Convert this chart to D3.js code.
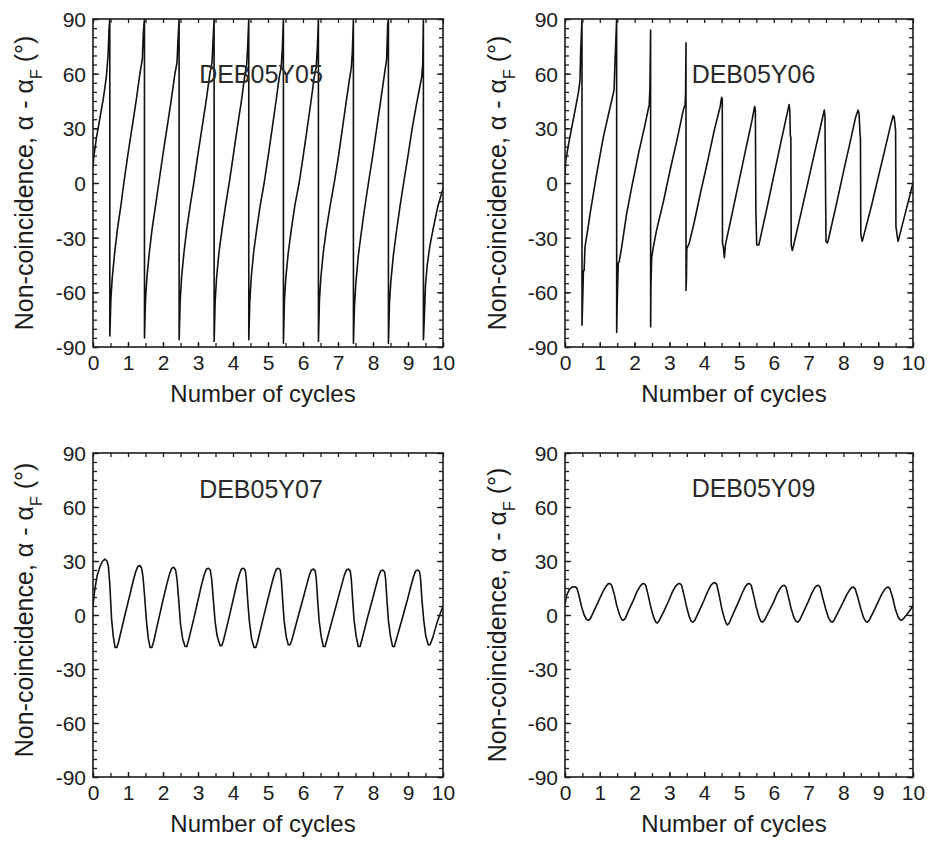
<!DOCTYPE html>
<html><head><meta charset="utf-8">
<script src="https://cdn.jsdelivr.net/npm/d3@7"></script>
<style>
html,body{margin:0;padding:0;background:#fff;}
svg{display:block;font-family:"Liberation Sans",Arial,Helvetica,sans-serif;}
</style></head><body>
<svg id="chart" width="934" height="841"></svg>
<script>
// ---------- data ----------
const panelTitles = ["DEB05Y05", "DEB05Y06", "DEB05Y07", "DEB05Y09"];
const xTickValues = [0, 1, 2, 3, 4, 5, 6, 7, 8, 9, 10];
const yTickValues = [-90, -60, -30, 0, 30, 60, 90];
const xAxisTitle = "Number of cycles";
const yAxisTitleMain = "Non-coincidence, \u03B1 - \u03B1";
const yAxisTitleSub = "F";
const yAxisTitleEnd = " (\u00B0)";

const deb05y05 = [
 [0,8],[0.02,14],[0.1,25],[0.2,36],[0.3,47],[0.38,58],[0.43,70],[0.46,85],[0.48,90],
 [0.481,-84],[0.51,-64],[0.55,-52],[0.62,-38],[0.7,-25],[0.8,-12],[0.88,0],[1.0,16],[1.12,31],[1.24,46],[1.34,60],[1.41,68],[1.44,83],[1.47,90],
 [1.471,-85],[1.5,-64],[1.54,-52],[1.61,-38],[1.69,-25],[1.79,-12],[1.88,0],[2.0,16],[2.12,31],[2.24,46],[2.34,60],[2.4,66],[2.43,79],[2.46,90],
 [2.461,-86],[2.49,-65],[2.53,-52],[2.6,-38],[2.68,-25],[2.78,-12],[2.88,0],[3.0,16],[3.12,31],[3.24,46],[3.34,60],[3.4,66],[3.43,78],[3.46,90],
 [3.461,-87],[3.49,-65],[3.53,-52],[3.6,-38],[3.69,-25],[3.79,-12],[3.9,1],[4.0,14],[4.12,30],[4.24,45],[4.33,58],[4.39,65],[4.42,75],[4.45,90],
 [4.451,-86],[4.48,-65],[4.52,-52],[4.59,-38],[4.68,-25],[4.78,-12],[4.89,0],[5.0,14],[5.12,30],[5.23,45],[5.32,58],[5.38,64],[5.41,74],[5.44,90],
 [5.441,-88],[5.47,-64],[5.51,-52],[5.58,-38],[5.67,-25],[5.77,-12],[5.89,0],[6.0,14],[6.12,30],[6.23,45],[6.32,58],[6.38,64],[6.41,74],[6.44,90],
 [6.441,-87],[6.47,-64],[6.51,-52],[6.58,-38],[6.67,-25],[6.78,-12],[6.9,1],[7.0,13],[7.12,29],[7.23,44],[7.32,56],[7.38,63],[7.41,72],[7.44,90],
 [7.441,-88],[7.47,-68],[7.51,-55],[7.58,-40],[7.66,-28],[7.76,-14],[7.87,0],[8.0,16],[8.12,32],[8.24,48],[8.33,60],[8.39,68],[8.42,87],[8.44,90],
 [8.441,-88],[8.47,-66],[8.51,-54],[8.58,-40],[8.66,-28],[8.77,-13],[8.875,0],[9.0,15],[9.12,30],[9.24,43],[9.33,52],[9.39,58],[9.42,65],[9.44,90],
 [9.441,-86],[9.47,-72],[9.5,-56],[9.55,-45],[9.62,-35],[9.72,-25],[9.85,-13],[10,-3]
];

const deb05y06 = [
 [0,5],[0.02,12],[0.1,21],[0.2,31],[0.3,41],[0.38,49],[0.43,56],[0.45,72],[0.488,90],
 [0.489,-78],[0.5,-70],[0.53,-48],[0.55,-48],[0.575,-35],[0.65,-26],[0.72,-17],[0.91,5],[1.1,25],[1.29,41],[1.41,51],[1.44,68],[1.484,90],
 [1.485,-82],[1.5,-66],[1.53,-44],[1.56,-43],[1.63,-35],[1.77,-17],[1.92,-2],[2.11,16],[2.3,32],[2.42,43],[2.44,52],[2.46,84],
 [2.461,-79],[2.47,-56],[2.49,-41],[2.54,-35],[2.63,-26],[2.83,-10],[3.02,7],[3.21,23],[3.4,40],[3.45,43],[3.465,49],[3.477,77],
 [3.478,-59],[3.49,-52],[3.5,-36],[3.57,-33],[3.72,-21],[3.91,-4],[4.1,12],[4.29,29],[4.46,42],[4.5,47],[4.52,46],
 [4.525,-33],[4.55,-35],[4.58,-41],[4.61,-34],
 [4.8,-17],[5.0,1],[5.2,19],[5.38,35],[5.45,42],[5.47,40],[5.485,-16],[5.51,-34],[5.57,-34],
 [5.8,-14],[6.0,4],[6.2,22],[6.37,37],[6.44,43],[6.46,40],[6.475,26],[6.49,25],[6.5,-34],[6.53,-37],[6.56,-35],
 [6.8,-15],[7.0,2],[7.2,19],[7.38,34],[7.45,40],[7.47,37],[7.48,12],[7.5,-32],[7.54,-33],[7.57,-31],
 [7.8,-11.5],[8.0,6],[8.2,23],[8.35,36],[8.42,40],[8.45,38],[8.48,26],[8.49,25],[8.5,-28],[8.54,-32],[8.57,-30],
 [8.8,-13],[9.0,3],[9.2,19],[9.36,32],[9.43,37],[9.46,36],[9.5,29],[9.51,-24],[9.54,-28],[9.57,-32],[9.6,-30],
 [9.8,-15],[10,0]
];

const deb05y07 = [
 [0,5],[0.05,14],[0.12,22],[0.2,27],[0.28,30],[0.34,31],[0.4,30],[0.44,27],[0.48,17],[0.53,-2],[0.58,-12],[0.63,-18],[0.68,-18],[0.73,-15],
 [0.9,-1],[1.05,11],[1.15,19],[1.22,24],[1.28,27],[1.34,27.5],[1.39,26],[1.43,21],[1.48,9],[1.53,-4],[1.58,-13],[1.63,-18],[1.68,-18],[1.73,-15],
 [1.88,-2],[2.02,10],[2.12,18],[2.19,23],[2.25,26],[2.31,26.5],[2.36,25],[2.4,20],[2.45,8],[2.5,-5],[2.56,-13],[2.63,-17.5],[2.68,-17.5],[2.73,-14],
 [2.88,-2],[3.01,9],[3.11,17.5],[3.18,22.5],[3.24,25.5],[3.3,26],[3.35,25],[3.39,20],[3.44,8],[3.49,-4],[3.55,-12],[3.63,-17],[3.68,-17],[3.73,-14],
 [3.88,-2],[4.01,9],[4.11,17.5],[4.18,22.5],[4.24,25.5],[4.3,26],[4.35,25],[4.38,20],[4.42,8],[4.47,-4],[4.53,-13],[4.6,-18],[4.65,-18],[4.7,-15],
 [4.86,-2],[5.0,9],[5.11,17.5],[5.18,22.5],[5.24,25.5],[5.3,26],[5.35,25],[5.38,20],[5.42,8],[5.46,-3],[5.52,-12],[5.58,-16.5],[5.63,-16.5],[5.68,-14],
 [5.86,-1],[6.0,9],[6.11,17],[6.18,22],[6.24,25],[6.3,25.5],[6.35,24.5],[6.38,20],[6.42,8],[6.46,-3],[6.52,-12],[6.58,-17.5],[6.63,-17.5],[6.68,-14],
 [6.86,-1],[7.0,9],[7.11,17],[7.18,22],[7.24,25],[7.3,25.5],[7.35,24.5],[7.38,20],[7.42,8],[7.46,-3],[7.52,-12],[7.58,-17.5],[7.63,-17.5],[7.68,-14],
 [7.85,-1],[7.99,9],[8.09,16.5],[8.16,21.5],[8.22,24.5],[8.28,25],[8.33,24],[8.36,20],[8.4,8],[8.44,-3],[8.5,-12],[8.56,-17.5],[8.61,-17.5],[8.66,-14],
 [8.85,-1],[8.99,9],[9.09,16.5],[9.16,21.5],[9.22,24.5],[9.28,25],[9.33,24],[9.36,20],[9.4,8],[9.45,-3],[9.51,-12],[9.58,-16.5],[9.63,-16.5],[9.7,-13],
 [9.85,-3],[10,5]
];

const deb05y09 = [
 [0,6],[0.05,11],[0.12,14],[0.2,15.5],[0.29,15.7],[0.34,15],[0.4,11],[0.47,5],[0.55,0],[0.62,-2.5],[0.67,-3],[0.73,-2],
 [0.85,3],[0.97,8],[1.09,13],[1.18,16],[1.24,17.3],[1.29,17.5],[1.34,16.5],[1.41,12],[1.49,5],[1.57,0],[1.63,-2.5],[1.67,-3],[1.73,-2],
 [1.84,3],[1.96,8],[2.07,13],[2.16,16],[2.22,17.3],[2.27,17.5],[2.32,16.5],[2.39,11],[2.47,4],[2.55,-1.5],[2.61,-4],[2.65,-4.5],[2.71,-3],
 [2.84,2],[2.97,7.5],[3.09,13],[3.18,16],[3.25,17.3],[3.3,17.5],[3.35,16.5],[3.42,11],[3.5,4],[3.58,-1.5],[3.63,-3.5],[3.67,-4],[3.73,-3],
 [3.85,2],[3.98,7.5],[4.1,13],[4.19,16.5],[4.26,17.8],[4.31,18],[4.36,17],[4.43,11],[4.51,3],[4.59,-2.5],[4.64,-5],[4.67,-5.5],[4.73,-4],
 [4.85,1.5],[4.98,7],[5.1,12.5],[5.19,16],[5.25,17.3],[5.3,17.5],[5.35,16.5],[5.42,11],[5.5,4],[5.58,-1.5],[5.63,-3.5],[5.67,-4],[5.73,-3],
 [5.86,2],[5.99,7],[6.1,12],[6.19,15],[6.25,16.3],[6.3,16.5],[6.35,15.5],[6.42,10],[6.5,3.5],[6.58,-1.5],[6.64,-3.5],[6.69,-4],[6.74,-3],
 [6.86,2],[6.98,7],[7.09,12],[7.17,15],[7.23,16.3],[7.28,16.5],[7.33,15.5],[7.4,10],[7.49,3.5],[7.57,-1.5],[7.63,-3.5],[7.68,-4],[7.73,-3],
 [7.86,2],[7.99,7],[8.1,11.5],[8.18,14],[8.24,15.3],[8.29,15.5],[8.34,14.5],[8.41,10],[8.5,3.5],[8.58,-1.5],[8.64,-3.5],[8.69,-4],[8.74,-3],
 [8.87,2],[8.99,7],[9.1,11.5],[9.18,14],[9.24,15.3],[9.29,15.5],[9.34,14.5],[9.41,10],[9.49,3.5],[9.57,-1],[9.62,-2.5],[9.67,-3],[9.73,-2],
 [9.85,1],[9.93,3],[10,5.5]
];

const seriesList = [deb05y05, deb05y06, deb05y07, deb05y09];

// ---------- layout ----------
const layout = [
  {left: 93,  top: 19,  width: 350, height: 328, titleDX: 168,   titleDY: 64, yTitleX: 33,  yTitleY: 183},
  {left: 565, top: 19,  width: 348, height: 328, titleDX: 188.5, titleDY: 64, yTitleX: 506, yTitleY: 183},
  {left: 93,  top: 453, width: 350, height: 324, titleDX: 168,   titleDY: 45, yTitleX: 33,  yTitleY: 610},
  {left: 565, top: 453, width: 348, height: 324, titleDX: 188.5, titleDY: 44, yTitleX: 506, yTitleY: 615}
];

const INK = "#1c1c1c";
const xMinor = d3.range(0, 10.001, 0.5);
const yMinor = d3.range(-90, 90.001, 5);
const plainFormat = d => String(d);   // hyphen-minus like the reference

const svg = d3.select("#chart");
svg.append("rect").attr("width", 934).attr("height", 841).attr("fill", "#fff");

function styleAxis(sel, withText) {
  sel.select(".domain").remove();
  sel.attr("font-size", null).attr("font-family", null);
  sel.selectAll(".tick line").attr("stroke", INK).attr("stroke-width", 1.3);
  if (withText) sel.selectAll(".tick text").attr("fill", INK).style("font-size", "21px");
}

layout.forEach((p, i) => {
  const g = svg.append("g").attr("transform", `translate(${p.left},${p.top})`);
  const x = d3.scaleLinear().domain([0, 10]).range([0, p.width]);
  const y = d3.scaleLinear().domain([-90, 90]).range([p.height, 0]);

  const clipId = "clip" + i;
  g.append("clipPath").attr("id", clipId).append("rect")
    .attr("x", 0).attr("y", 0).attr("width", p.width).attr("height", p.height);

  // data line
  const line = d3.line().x(d => x(d[0])).y(d => y(d[1]));
  g.append("path").datum(seriesList[i])
    .attr("clip-path", `url(#${clipId})`)
    .attr("d", line)
    .attr("fill", "none").attr("stroke", "#111").attr("stroke-width", 1.6)
    .attr("stroke-linejoin", "round");

  // ticks: bottom
  g.append("g").attr("transform", `translate(0,${p.height})`)
    .call(d3.axisBottom(x).tickValues(xMinor).tickSize(-4).tickFormat(""))
    .call(s => styleAxis(s, false));
  g.append("g").attr("transform", `translate(0,${p.height})`)
    .call(d3.axisBottom(x).tickValues(xTickValues).tickSize(-5).tickPadding(8).tickFormat(plainFormat))
    .call(s => styleAxis(s, true));
  // top
  g.append("g")
    .call(d3.axisTop(x).tickValues(xMinor).tickSize(-4).tickFormat(""))
    .call(s => styleAxis(s, false));
  // left
  g.append("g")
    .call(d3.axisLeft(y).tickValues(yMinor).tickSize(-4).tickFormat(""))
    .call(s => styleAxis(s, false));
  g.append("g")
    .call(d3.axisLeft(y).tickValues(yTickValues).tickSize(-6).tickPadding(7).tickFormat(plainFormat))
    .call(s => styleAxis(s, true))
    .call(s => s.selectAll(".tick text").attr("dy", "0.36em"));
  // right
  g.append("g").attr("transform", `translate(${p.width},0)`)
    .call(d3.axisRight(y).tickValues(yMinor).tickSize(-4).tickFormat(""))
    .call(s => styleAxis(s, false));
  g.append("g").attr("transform", `translate(${p.width},0)`)
    .call(d3.axisRight(y).tickValues(yTickValues).tickSize(-6).tickFormat(""))
    .call(s => styleAxis(s, false));

  // frame
  g.append("rect").attr("x", 0).attr("y", 0).attr("width", p.width).attr("height", p.height)
    .attr("fill", "none").attr("stroke", INK).attr("stroke-width", 1.6);

  // panel title
  g.append("text").attr("x", p.titleDX).attr("y", p.titleDY)
    .attr("text-anchor", "middle").attr("fill", "#2a2a2a")
    .style("font-size", "25px").text(panelTitles[i]);

  // x axis title
  g.append("text").attr("x", p.width / 2 - 5).attr("y", p.height + 55)
    .attr("text-anchor", "middle").attr("fill", INK)
    .style("font-size", "24px").text(xAxisTitle);

  // y axis title
  const yt = svg.append("text")
    .attr("transform", `translate(${p.yTitleX},${p.yTitleY}) rotate(-90)`)
    .attr("text-anchor", "middle").attr("fill", INK).style("font-size", "25px");
  yt.append("tspan").text(yAxisTitleMain);
  yt.append("tspan").attr("dy", 9).style("font-size", "16px").text(yAxisTitleSub);
  yt.append("tspan").attr("dy", -9).text(yAxisTitleEnd);
});
</script>
</body></html>
